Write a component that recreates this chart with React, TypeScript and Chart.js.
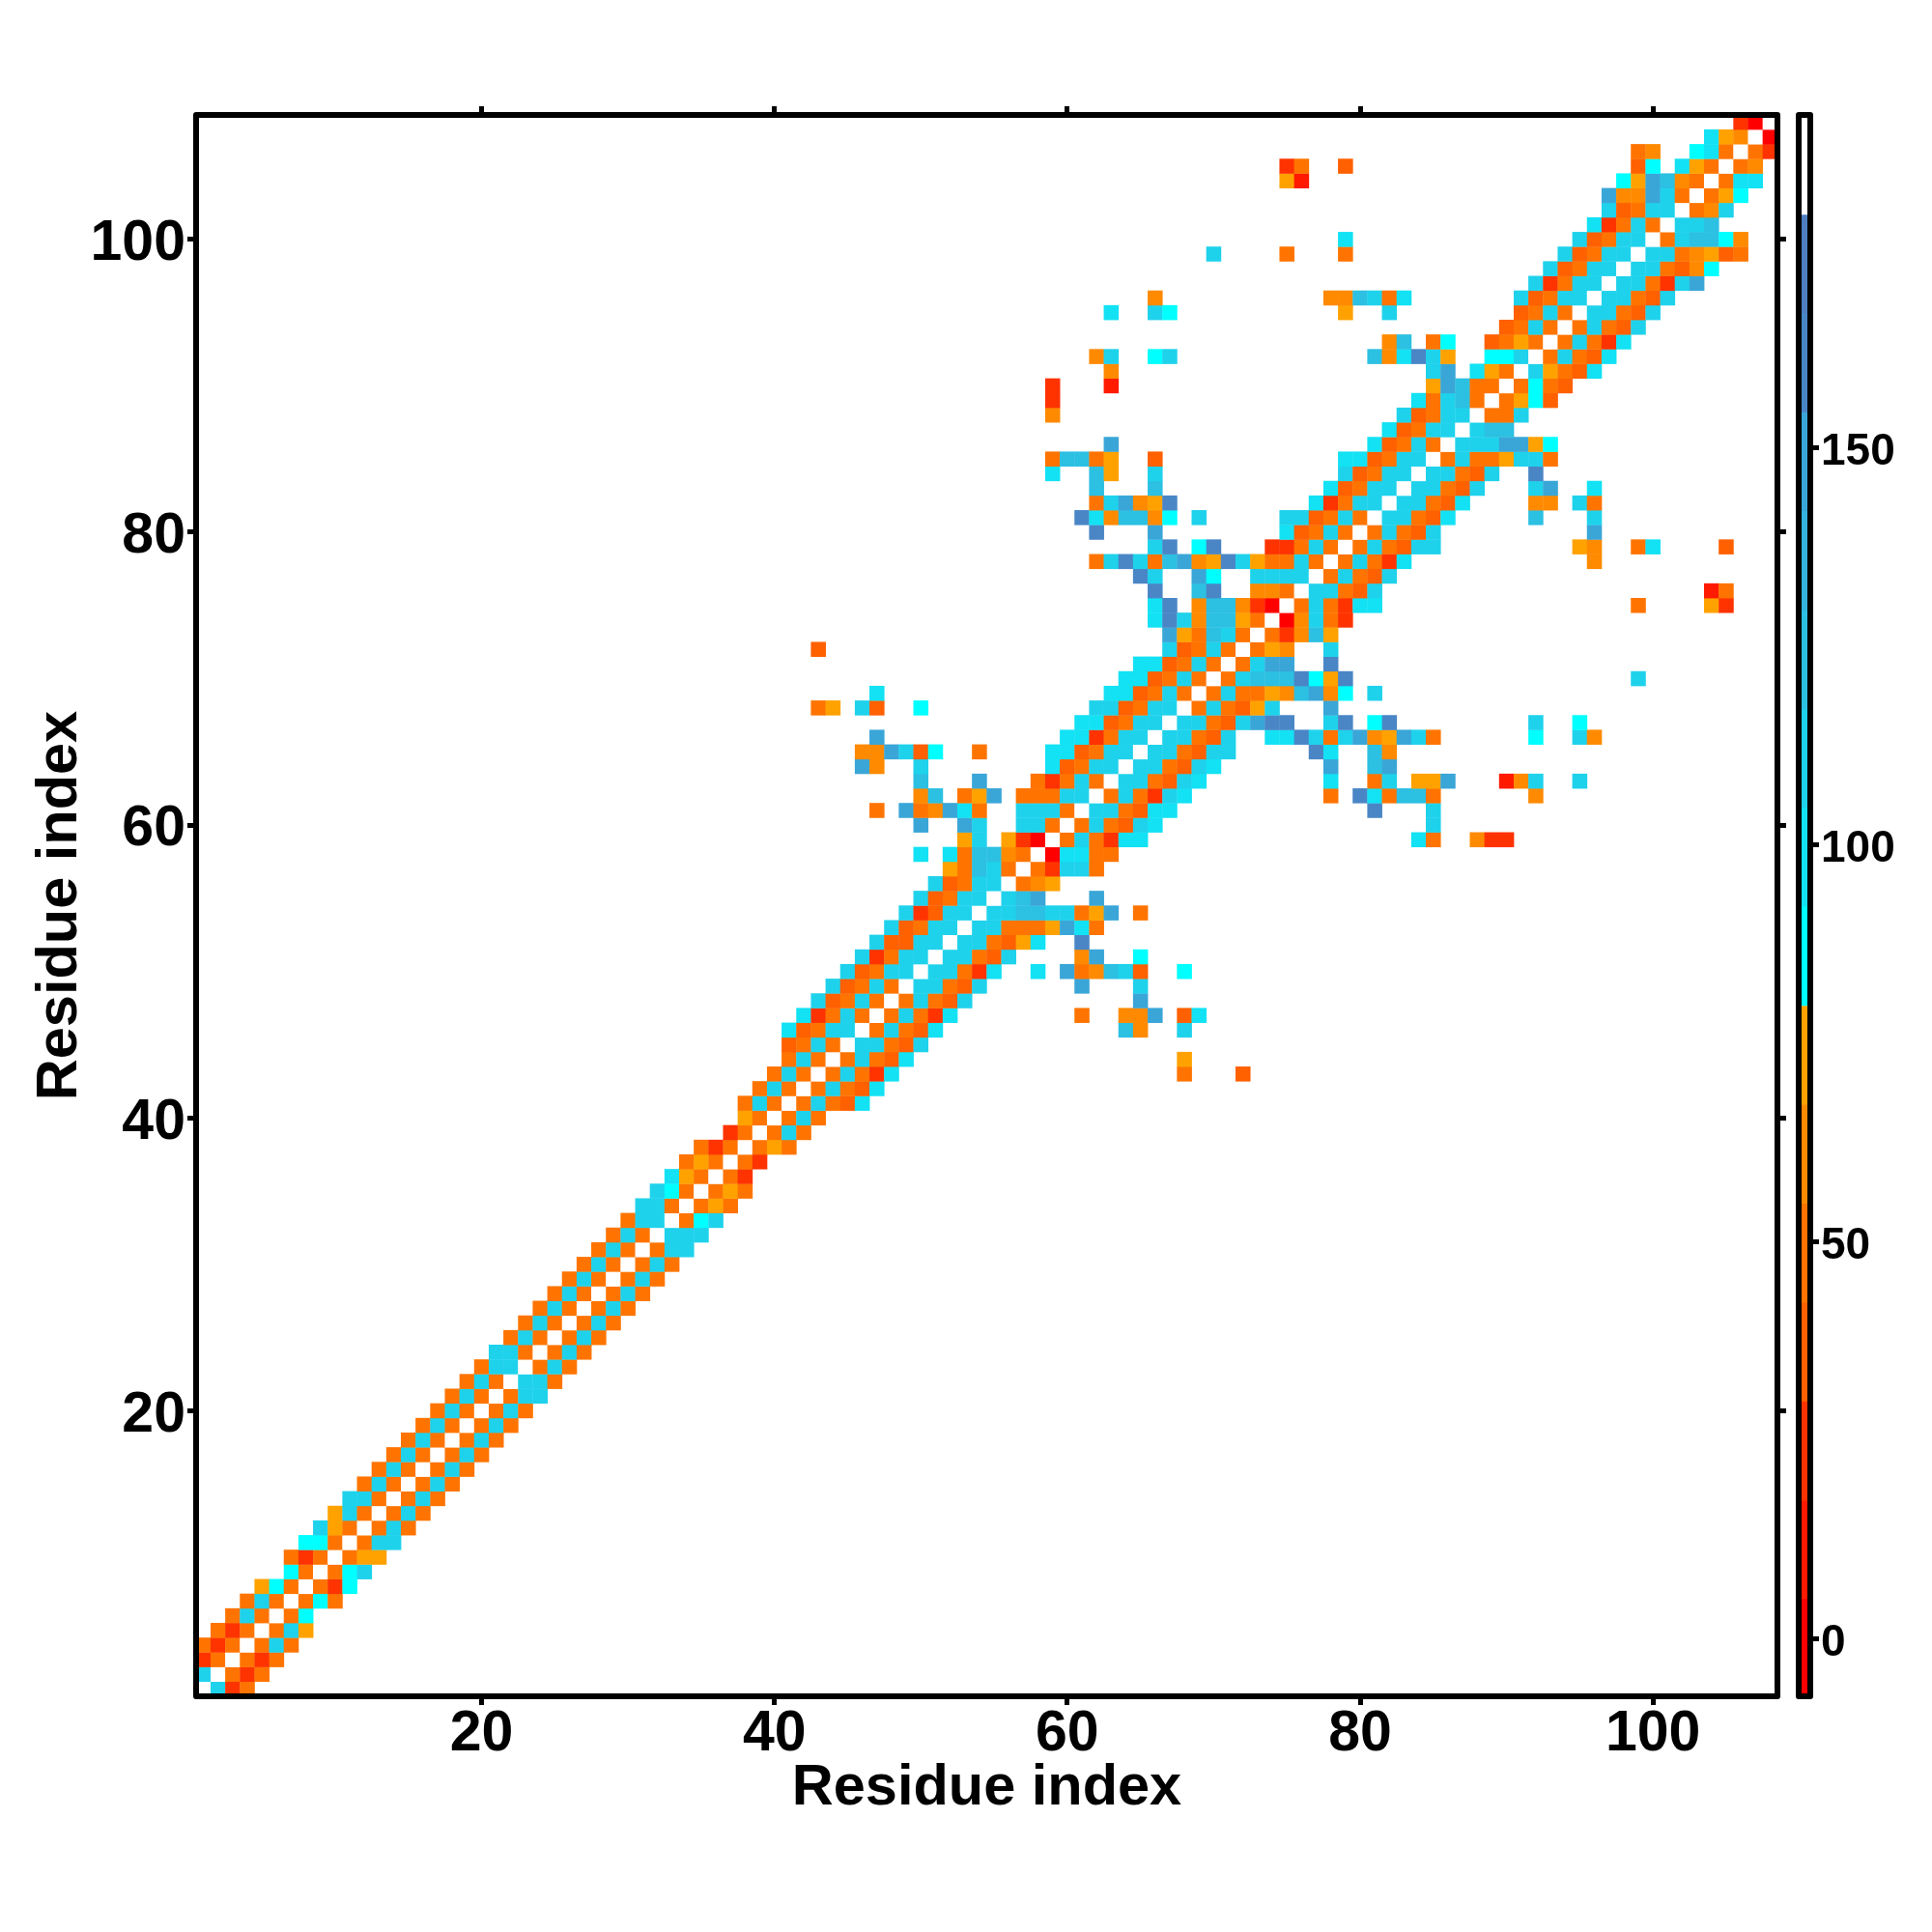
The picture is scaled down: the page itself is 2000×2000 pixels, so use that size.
import { useEffect, useRef } from 'react';
import Chart from 'chart.js/auto';
import type { Scale } from 'chart.js';

// one string per residue on the y axis (row 1 first), "startColumn:codes" segments
const cellRows: string[] = [
  '1:wkce', '1:kwece', '1:cewece', '1:eceweke', '2:ecewekg', '3:ekeweh', '4:ekewehe', '5:ghewech', '7:hewehk', '7:ecewegg',
  '8:hhewekk', '9:kgeweke', '10:gkeweke', '11:kkeweke', '12:ekeweke', '13:ekeweke', '14:ekeweke', '15:ekeweke', '16:ekeweke', '17:ekeweke',
  '18:ekewekk', '19:ekewkke', '20:ekkweke', '21:kkeweke', '22:ekeweke', '23:ekeweke', '24:ekeweke', '25:ekeweke', '26:ekeweke', '27:ekeweke',
  '28:ekewekk', '29:ekewkkk', '30:ekkwehk', '31:kkewege', '32:khewege', '33:igewec', '34:egewec', '35:ecewege', '37:ceweke', '38:geweke',
  '38:ekewekedi', '39:ekewekedi', '40:ekewekeci 68:e 72:d', '41:ekewekedi 68:g', '41:dekewkkedk',
  '41:idekkwekedi 64:lf 68:k', '42:icekewekeci 61:e 64:ffm 68:di', '43:kdekewekedk 65:m', '44:kdekewkkedk 61:m 65:k',
  '45:kdekkwkkeci 58:i 60:meflkd 68:h',
  '46:kcekkwkkedk 61:fm 65:h', '47:kddkkwkkedgi 61:n', '48:kdekkwkkeeegmie', '49:kcdkkwkkllkkegm 65:e', '50:kdekkwklm 62:m',
  '51:kdekkwefg', '52:gelkeweckke', '50:i 52:iellfewaiiee', '53:gk 56:gcawekecii 84:ie 88:fcc', '50:m 53:mk 57:kkewekedki 85:k',
  '47:e 49:mefmie 57:kkkewkkedii 81:n 85:k', '50:fl 53:egm 57:eeekkwekecki 78:e 80:nielle 92:f',
  '50:l 54:m 58:ecekewkkedki 78:i 81:ek 84:ggm 90:bfk 95:k', '46:mf 50:k 59:idekkwkkedki 78:m 81:lm',
  '46:ffmkdh 54:e 59:iidekkwkkedkk 77:ni 81:lf', '47:m 60:iicekkwkkedk 74:iinkekmfgmke 92:h 95:kf',
  '61:iidekkwkkedkmnn 78:kn 81:hn 92:k 95:h', '43:eg 46:kd 50:h 62:kkdekkwekedgk 78:m', '47:i 63:iidekewekeegflmfh 81:k',
  '64:iidekeweklllnhgn 99:k', '65:iidekewekmm 78:n', '43:d 67:kdekewegf 78:k', '67:mgelkewecflg', '66:inkfllgewafkec',
  '66:in 69:fllfcawekecii 99:e 104:gc', '66:n 69:ln 73:ffewkkedk 104:be', '65:nk 69:mh 73:kkkkwekedk',
  '62:eknkelmfgnkgeekewekeci 96:f', '66:kn 69:hn 74:ccekewekedkk 95:gf 99:ei 105:d', '62:n 66:m 75:idekewekedk 96:m',
  '61:nifllfh 69:k 75:kkdekewkkedi 92:l 96:k', '62:ekmfgn 77:icekkwkkedi 92:ff 95:ke', '62:l 66:l 78:idekkwkkedk 92:km 96:i',
  '59:i 62:lg 66:k 79:kdekkwkkedk 92:n', '59:elleg 66:d 79:iidekkwekeegkke', '63:m 81:idekewkkkmmgh', '82:idekkwkll',
  '59:f 83:kdekkweek', '59:c 84:iekleweghd', '59:c 63:b 85:gmleewehed', '63:f 85:km 88:igewkgedi', '62:fk 66:hk 81:lfinkg 89:hhkwekedi',
  '82:fl 85:eh 89:degewekeci', '90:dekewekedk', '63:i 66:kh 79:g 82:k 91:dekewkkedk', '66:f 78:fflkei 91:kdekkwkkedk',
  '92:kcekkwkkeckm', '93:kdekkwkkedfh', '70:k 75:e 79:e 94:kdekkwkkefgde', '79:i 95:kdekkwekllhf', '96:icekewkkl', '97:kdekkwefk',
  '97:mffmkewegh', '75:gb 98:hgmlfeweii', '75:ce 79:d 99:dh 102:igewef', '99:ef 103:hiewec', '104:igfwa', '106:caw',
];

// colour key: letter used in cellRows -> bin index
const binCodes = 'abcdefghikl-mn-w';
const binEdges = [-7.5, 5, 17.4, 29.9, 42.3, 54.8, 67.3, 79.7, 92.2, 104.6, 117, 129.5, 142, 154.4, 166.9, 179.3, 192];
const binColors = [
  '#ff0000', '#ff1a00', '#ff3300', '#ff6000', '#ff7400', '#ff8a00', '#ffa200', '#00ffff',
  '#12e2f4', '#1fd2ec', '#2cc0e2', '#33b3de', '#3aa6d8', '#4a86c6', '#4d7ec0', '#ffffff',
];

const residueTicks = [20, 40, 60, 80, 100];
const colorTicks = [0, 50, 100, 150];
const axisTitle = 'Residue index';
const labelFont = 'Liberation Sans';

const cells = cellRows.flatMap((row, r) =>
  row.split(' ').flatMap((segment) => {
    const [start, codes] = segment.split(':');
    return [...codes].map((code, c) => ({ x: Number(start) + c, y: r + 1, bin: binCodes.indexOf(code) }));
  }),
);

const framePlugin = {
  id: 'frame',
  afterDraw(chart: Chart) {
    const { ctx, chartArea: a } = chart;
    ctx.save();
    ctx.strokeStyle = '#000';
    ctx.lineWidth = 6;
    ctx.lineJoin = 'round';
    ctx.strokeRect(a.left, a.top, a.right - a.left, a.bottom - a.top);
    ctx.restore();
  },
};

const useTicks = (values: number[]) => (scale: Scale) => {
  scale.ticks = values.map((value) => ({ value }));
};

const residueAxis = (position: string, size: number, showLabels: boolean, title?: object) => ({
  type: 'linear',
  position,
  min: 0.5,
  max: 108.5,
  afterBuildTicks: useTicks(residueTicks),
  afterFit: (scale: Scale) => {
    if (scale.isHorizontal()) scale.height = size;
    else scale.width = size;
  },
  border: { display: false },
  grid: { drawOnChartArea: false, drawTicks: true, tickLength: 9, tickWidth: 5, tickColor: '#000' },
  ticks: {
    display: showLabels,
    autoSkip: false,
    maxRotation: 0,
    padding: position === 'bottom' ? -5 : 2,
    labelOffset: position === 'left' ? 5 : 0,
    color: '#000',
    font: { family: labelFont, weight: 'bold', size: 59 },
    callback: (v: number) => String(v),
  },
  title: title ?? { display: false },
});

export default function App() {
  const heatRef = useRef<HTMLCanvasElement>(null);
  const barRef = useRef<HTMLCanvasElement>(null);

  useEffect(() => {
    if (!heatRef.current || !barRef.current) return;

    const heat = new Chart(heatRef.current, {
      type: 'scatter',
      data: {
        datasets: [
          {
            data: cells,
            pointStyle: 'rect',
            pointBorderWidth: 0,
            pointBackgroundColor: (ctx: any) => binColors[ctx.raw.bin],
            pointRadius: (ctx: any) => {
              const s = ctx.chart.scales.x;
              return (s.getPixelForValue(1) - s.getPixelForValue(0) + 0.4) / Math.SQRT2;
            },
          },
        ],
      },
      options: {
        animation: false,
        responsive: false,
        devicePixelRatio: 1,
        events: [],
        plugins: { legend: { display: false }, tooltip: { enabled: false } },
        scales: {
          x: residueAxis('bottom', 244, true, {
            display: true,
            text: axisTitle,
            color: '#000',
            font: { family: labelFont, weight: 'bold', size: 59.5 },
            padding: { top: 0, bottom: 113 },
          }),
          y: residueAxis('left', 203, true, {
            display: true,
            text: axisTitle,
            color: '#000',
            font: { family: labelFont, weight: 'bold', size: 59.5 },
            padding: { top: 27, bottom: 0 },
          }),
          xTop: residueAxis('top', 119, false),
          yRight: residueAxis('right', 160, false),
        },
      } as any,
      plugins: [framePlugin],
    });

    const bar = new Chart(barRef.current, {
      type: 'bar',
      data: {
        labels: [''],
        datasets: binColors.map((color, i) => ({
          data: [[binEdges[i], binEdges[i + 1]]],
          backgroundColor: color,
          borderWidth: 0,
          grouped: false,
          barPercentage: 1,
          categoryPercentage: 1,
        })),
      },
      options: {
        animation: false,
        responsive: false,
        devicePixelRatio: 1,
        events: [],
        layout: { padding: { left: 1862, top: 119, bottom: 244, right: 0 } },
        plugins: { legend: { display: false }, tooltip: { enabled: false } },
        scales: {
          x: { display: false },
          y: {
            position: 'right',
            min: -7.2,
            max: 191.9,
            afterBuildTicks: useTicks(colorTicks),
            afterFit: (scale: Scale) => {
              scale.width = 126;
            },
            border: { display: false },
            grid: { drawOnChartArea: false, drawTicks: true, tickLength: 9, tickWidth: 5, tickColor: '#000' },
            ticks: {
              autoSkip: false,
              padding: 2,
              labelOffset: 5,
              color: '#000',
              font: { family: labelFont, weight: 'bold', size: 46 },
              callback: (v: number) => String(v),
            },
          },
        },
      } as any,
      plugins: [framePlugin],
    });

    return () => {
      heat.destroy();
      bar.destroy();
    };
  }, []);

  const canvasStyle = { position: 'absolute', left: 0, top: 0 } as const;
  return (
    <div style={{ position: 'absolute', left: 0, top: 0, width: 2000, height: 2000, background: '#fff' }}>
      <canvas ref={heatRef} width={2000} height={2000} style={canvasStyle} />
      <canvas ref={barRef} width={2000} height={2000} style={canvasStyle} />
    </div>
  );
}
